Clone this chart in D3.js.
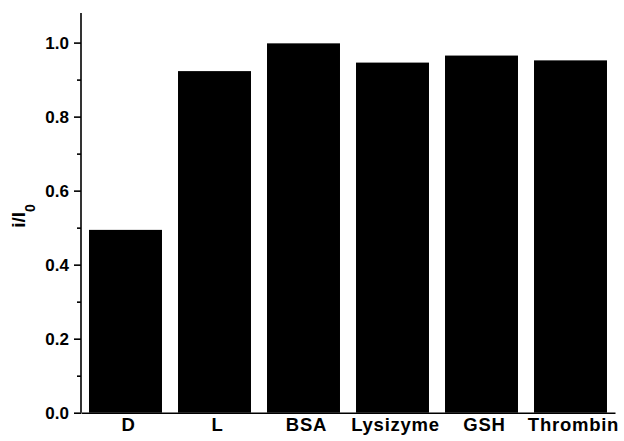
<!DOCTYPE html>
<html>
<head>
<meta charset="utf-8">
<script src="https://cdn.jsdelivr.net/npm/d3@7"></script>
<style>
  html, body { margin: 0; padding: 0; background: #fff; }
  svg { display: block; }
</style>
</head>
<body>
<script>
const categories = ["D", "L", "BSA", "Lysizyme", "GSH", "Thrombin"];
const values = [0.494, 0.923, 0.998, 0.946, 0.965, 0.952];
const yTicks = [0.0, 0.2, 0.4, 0.6, 0.8, 1.0];
const yMinorTicks = [0.1, 0.3, 0.5, 0.7, 0.9];

const W = 624, H = 441;
const svg = d3.select("body").append("svg").attr("width", W).attr("height", H);

const x = d3.scaleBand().domain(categories).range([81, 615]).paddingInner(0.18).paddingOuter(0.09);
const y = d3.scaleLinear().domain([0, 1.08]).range([412.7, 13]);

const font = "'Liberation Sans', Arial, Helvetica, sans-serif";

// bars
svg.append("g").selectAll("rect").data(categories).join("rect")
  .attr("x", d => x(d))
  .attr("width", x.bandwidth())
  .attr("y", (d, i) => y(values[i]))
  .attr("height", (d, i) => y(0) - y(values[i]))
  .attr("fill", "#000");

// y axis
const yAxis = svg.append("g").attr("transform", "translate(81,0)")
  .call(d3.axisLeft(y).tickValues(yTicks).tickFormat(d3.format(".1f")).tickSize(7).tickSizeOuter(0).tickPadding(5));
yAxis.select(".domain").attr("stroke", "#000").attr("stroke-width", 1.6).attr("d", `M0,${y(1.08)}V${y(0)}`);
yAxis.selectAll(".tick line").attr("stroke-width", 1.6);
yAxis.selectAll(".tick text").attr("font-family", font).attr("font-weight", "bold").attr("font-size", 17).attr("fill", "#000");

const yMinor = svg.append("g").attr("transform", "translate(81,0)")
  .call(d3.axisLeft(y).tickValues(yMinorTicks).tickSize(4).tickFormat(""));
yMinor.select(".domain").remove();
yMinor.selectAll(".tick line").attr("stroke-width", 1.6);

// x axis
const xAxis = svg.append("g").attr("transform", `translate(0,${y(0)})`)
  .call(d3.axisBottom(x).tickSize(0).tickSizeOuter(0).tickPadding(5));
xAxis.select(".domain").attr("stroke", "#000").attr("stroke-width", 1.6);
xAxis.selectAll(".tick text")
  .attr("font-family", font).attr("font-weight", "bold").attr("font-size", 18.5)
  .attr("letter-spacing", "0.75px").attr("dx", 3).attr("fill", "#000");

// y label
const yl = svg.append("text")
  .attr("transform", "translate(25,216) rotate(-90)")
  .attr("text-anchor", "middle")
  .attr("font-family", font).attr("font-weight", "bold").attr("font-size", 19).attr("fill", "#000");
yl.append("tspan").text("i/I");
yl.append("tspan").attr("font-size", 14).attr("dy", 10).text("0");
</script>
</body>
</html>
